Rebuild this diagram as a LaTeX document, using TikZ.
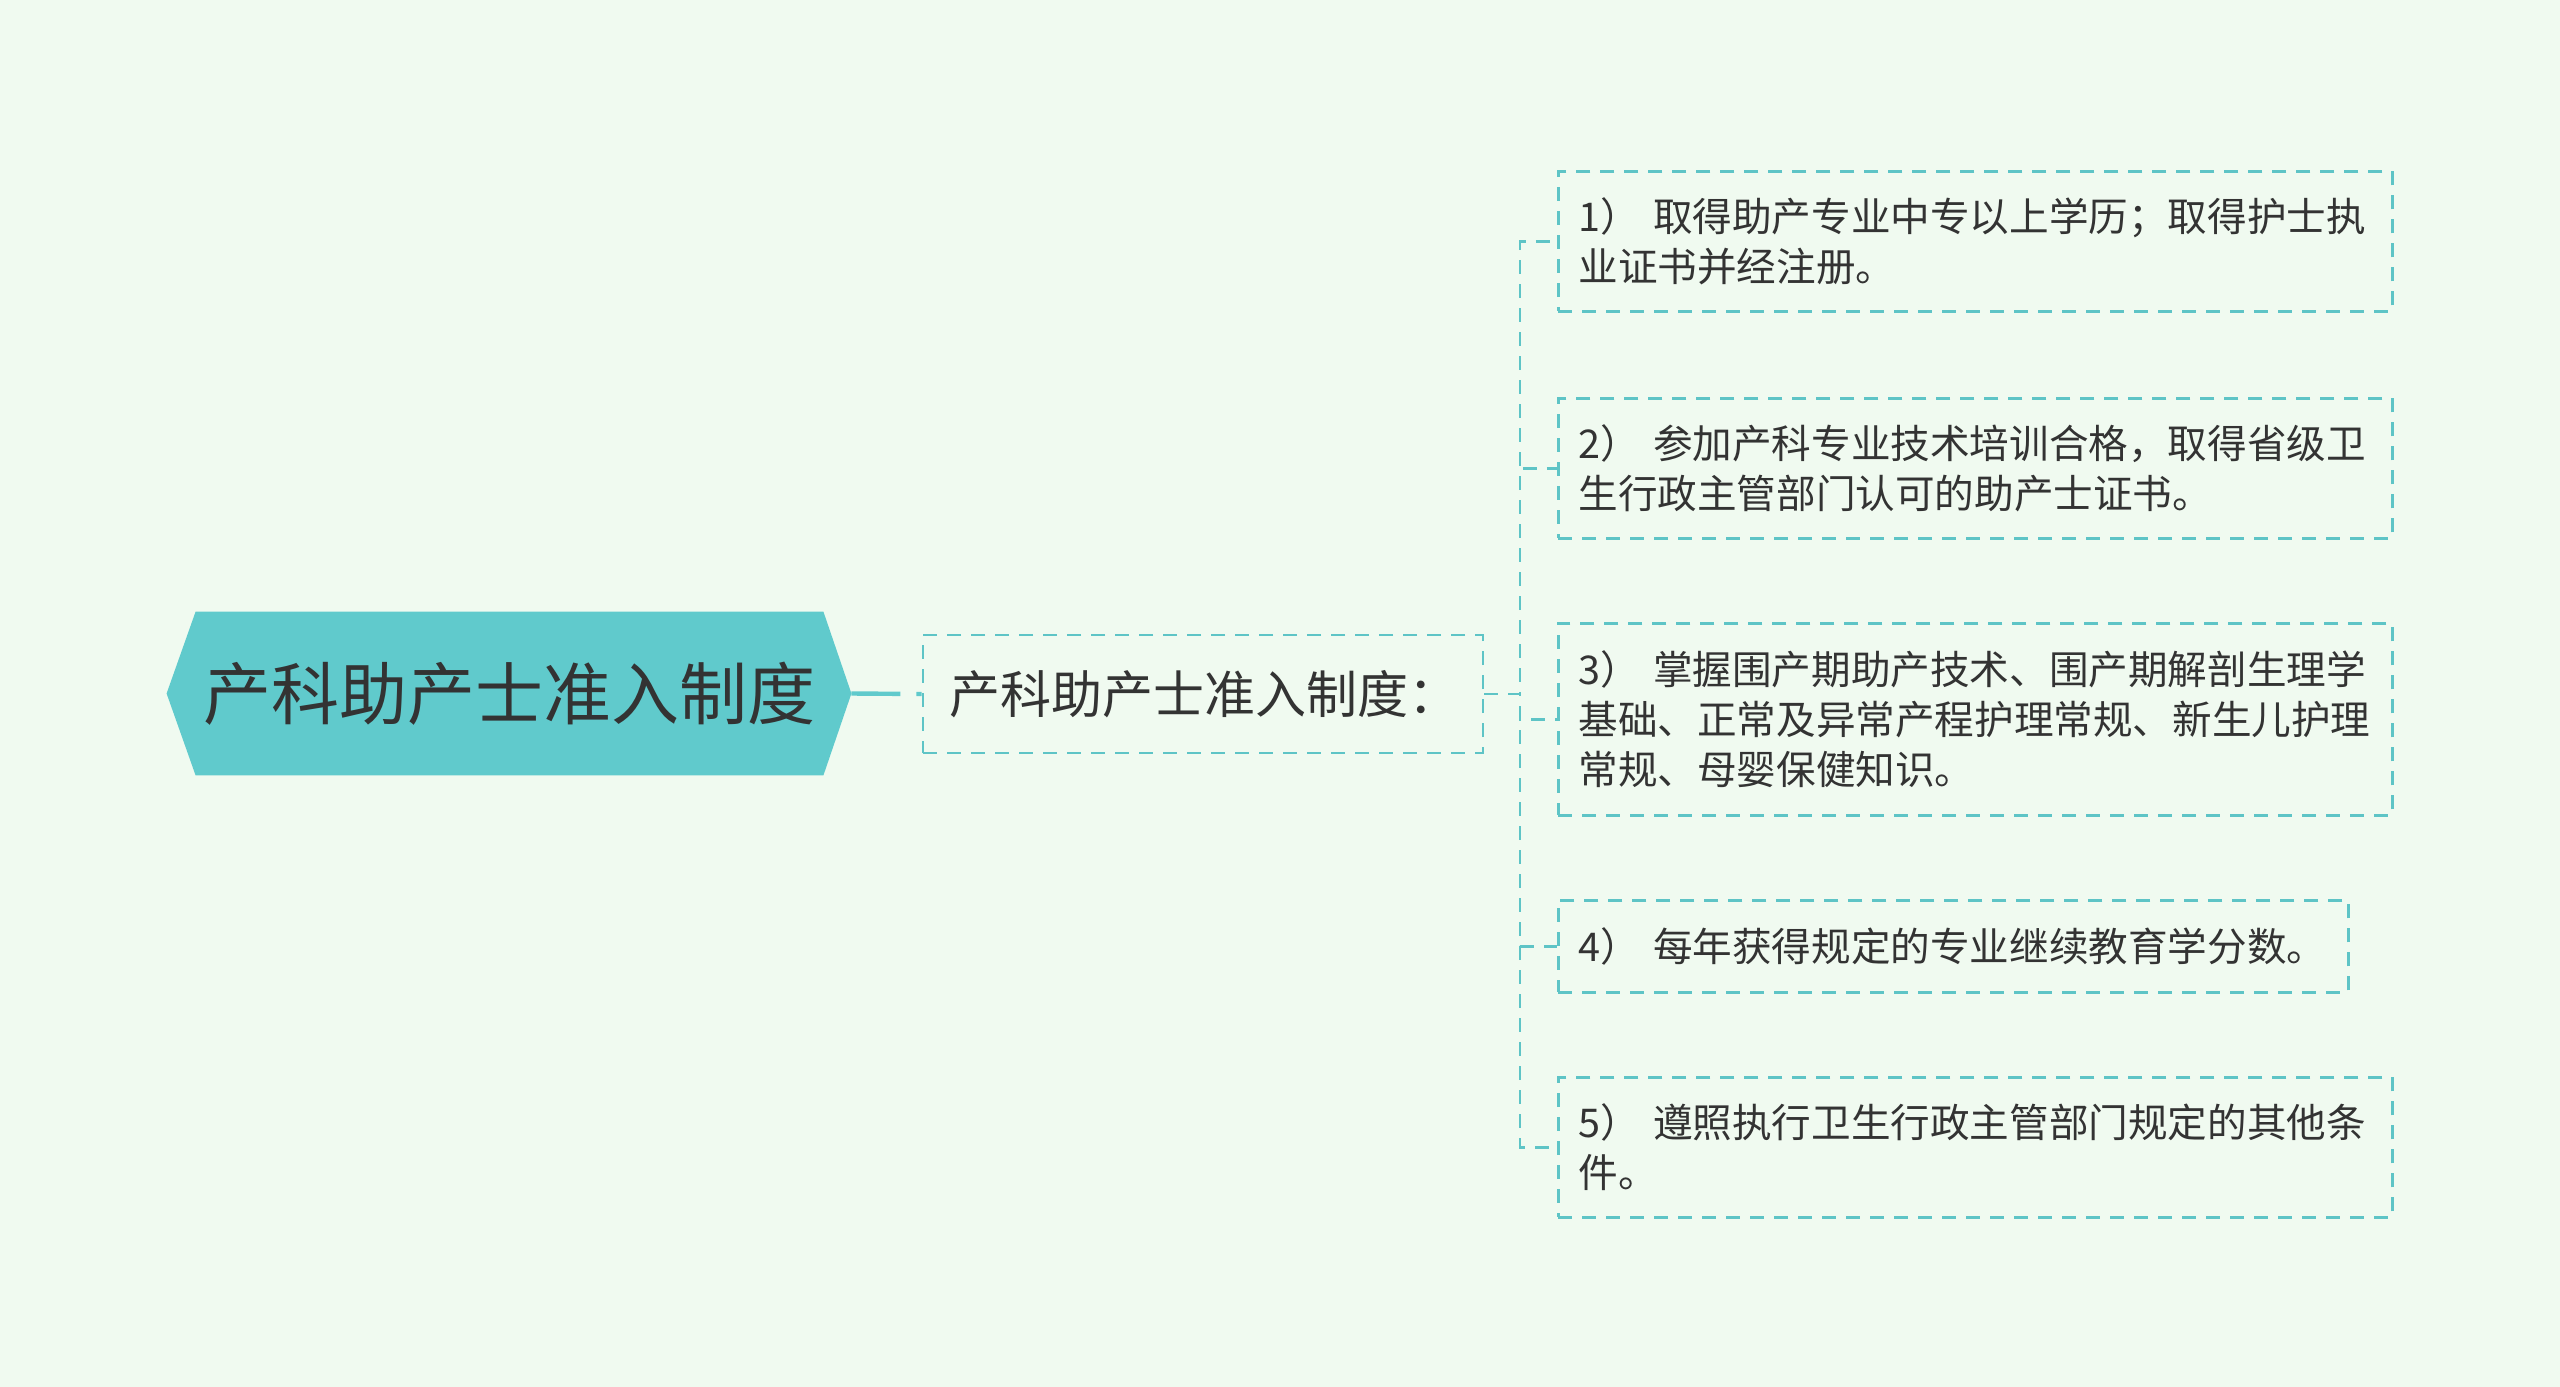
\documentclass[tikz,border=0pt]{standalone}
\usepackage{fontspec}
\setmainfont{Noto Sans CJK SC}
\usetikzlibrary{backgrounds}
\definecolor{bgc}{HTML}{F0FAF0}
\definecolor{tealc}{HTML}{60CACC}
\definecolor{dashc}{HTML}{5EC4C6}
\definecolor{txtc}{HTML}{333333}
\begin{document}
\begin{tikzpicture}[x=0.5pt,y=-0.5pt,
  rootnode/.style={minimum width=342pt, minimum height=81.5pt, inner sep=0pt,
    font=\fontsize{34}{40}\selectfont, text=txtc},
  subbox/.style={draw=dashc, line width=1.4pt, dash pattern=on 7pt off 5pt,
    minimum width=280pt, minimum height=59pt, text width=254pt, inner xsep=13pt,
    inner ysep=0pt, align=left, font=\fontsize{25.5}{30}\selectfont, text=txtc},
  itembox/.style={draw=dashc, line width=1.4pt, dash pattern=on 7pt off 5pt,
    anchor=north west, minimum width=417pt, text width=397pt, inner xsep=10pt,
    inner ysep=0pt, align=left, font=\fontsize{19.8}{25}\selectfont, text=txtc},
  conn/.style={draw=dashc, line width=1.4pt, dash pattern=on 7pt off 5pt},
  rootline/.style={draw=tealc, line width=2.2pt, dash pattern=on 24.5pt off 8pt on 10pt}
]
\useasboundingbox (0,0) rectangle (2560,1387);

\node[rootnode] (root) at (509,693.5) {产科助产士准入制度};
\begin{scope}[on background layer]
  \fill[bgc] (0,0) rectangle (2560,1387);
  \fill[tealc] (root.west) -- ([xshift=14.5pt]root.north west) -- ([xshift=-14pt]root.north east)
    -- (root.east) -- ([xshift=-14pt]root.south east) -- ([xshift=14.5pt]root.south west) -- cycle;
\end{scope}

\node[subbox] (sub) at (1203,694) {产科助产士准入制度：};

\node[itembox, minimum height=70pt] (i1) at (1557,170)
  {1）~取得助产专业中专以上学历；取得护士执\\业证书并经注册。};
\node[itembox, minimum height=70pt] (i2) at (1557,397)
  {2）~参加产科专业技术培训合格，取得省级卫\\生行政主管部门认可的助产士证书。};
\node[itembox, minimum height=96pt] (i3) at (1557,622)
  {3）~掌握围产期助产技术、围产期解剖生理学\\基础、正常及异常产程护理常规、新生儿护理\\常规、母婴保健知识。};
\node[itembox, minimum height=46pt, minimum width=395pt, text width=375pt] (i4) at (1557,899)
  {4）~每年获得规定的专业继续教育学分数。};
\node[itembox, minimum height=70pt] (i5) at (1557,1076)
  {5）~遵照执行卫生行政主管部门规定的其他条\\件。};

\coordinate (spine) at (1520,694);
\draw[rootline] (root.east) -- (sub.west);
\foreach \n in {i1,i2,i3,i4,i5}
  \draw[conn] (sub.east) -- (spine) |- (\n.west);
\end{tikzpicture}
\end{document}
